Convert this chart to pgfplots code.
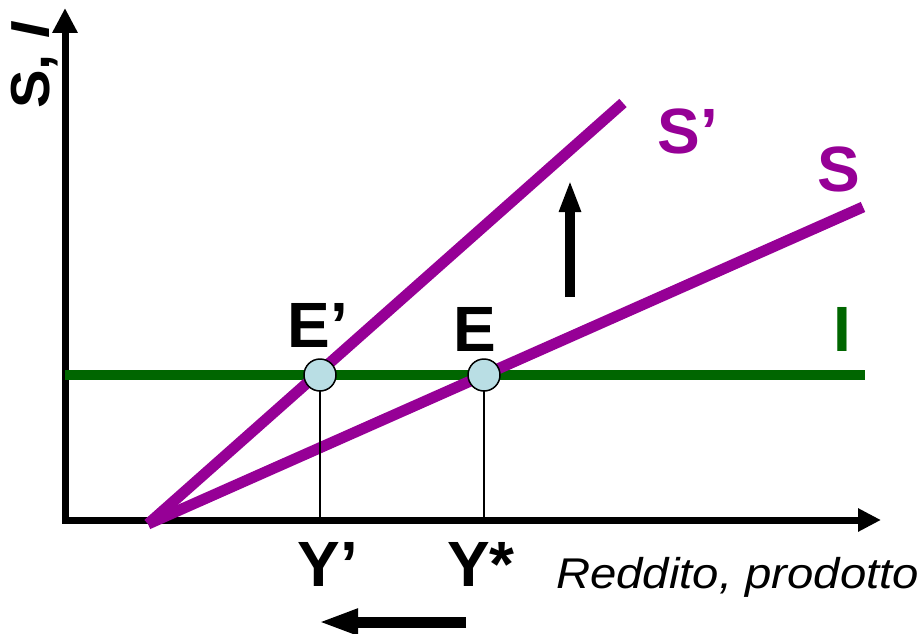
\documentclass[border=0pt]{standalone}
\usepackage{pgfplots}
\pgfplotsset{compat=1.18}
\usepackage{graphicx}
\usepackage{fontspec}
\setmainfont{Liberation Sans}
\usetikzlibrary{arrows.meta}
\definecolor{curvepurple}{RGB}{150,0,150}
\definecolor{igreen}{RGB}{0,102,0}
\definecolor{ptfill}{RGB}{185,222,228}
\begin{document}
\begin{tikzpicture}
\begin{axis}[
  scale only axis, width=923pt, height=632pt,
  xmin=0, xmax=923, ymin=0, ymax=632, y dir=reverse,
  hide axis, clip=false,
]
\path[draw=none] (axis cs:0,0) rectangle (axis cs:923,632);
% axes
\addplot[black, line width=7pt, -{Triangle[length=25pt,width=24pt]}] coordinates {(65,523) (65,8)};
\addplot[black, line width=7pt, -{Triangle[length=23pt,width=22pt]}] coordinates {(62,520) (881,520)};
% investment line
\addplot[igreen, line width=10pt] coordinates {(65,375) (865,375)};
% saving lines
\addplot[curvepurple, line width=11pt, line cap=butt] coordinates {(148,524) (863,207)};
\addplot[curvepurple, line width=11pt, line cap=butt] coordinates {(148,524) (623,103)};
% drop lines
\addplot[black, line width=1.8pt] coordinates {(320,375) (320,520)};
% equilibrium points
\addplot[only marks, mark=*, mark size=16pt, mark options={fill=ptfill, draw=black, line width=1.5pt}] coordinates {(320,375) (484,375)};
\addplot[black, line width=1.8pt] coordinates {(484,375) (484,520)};
% shift arrows
\addplot[black, line width=10pt, -{Triangle[length=32pt,width=20pt]}] coordinates {(570,297) (570,180)};
\addplot[black, line width=11pt, -{Triangle[length=40pt,width=24pt]}] coordinates {(466,622) (318,622)};
% labels
\node[anchor=base, font=\fontsize{55}{55}\selectfont\bfseries, rotate=90] at (axis cs:50,65) {\scalebox{1.05}[1]{S, \textit{I}}};
\node[anchor=base, font=\fontsize{64}{64}\selectfont\bfseries] at (axis cs:318,347) {E’};
\node[anchor=base, font=\fontsize{64}{64}\selectfont\bfseries] at (axis cs:475,351) {E};
\node[anchor=base, font=\fontsize{64}{64}\selectfont\bfseries, text=igreen] at (axis cs:842,351) {I};
\node[anchor=base, font=\fontsize{64}{64}\selectfont\bfseries, text=curvepurple] at (axis cs:688,153) {S’};
\node[anchor=base, font=\fontsize{64}{64}\selectfont\bfseries, text=curvepurple] at (axis cs:839,191) {S};
\node[anchor=base, font=\fontsize{64}{64}\selectfont\bfseries] at (axis cs:328,586) {Y’};
\node[anchor=base, font=\fontsize{64}{64}\selectfont\bfseries] at (axis cs:481,586) {Y*};
\node[anchor=base west, inner sep=0pt, font=\fontsize{43}{43}\selectfont\itshape] at (axis cs:556,588) {\scalebox{1.1}[1]{Reddito, prodotto}};
\end{axis}
\end{tikzpicture}
\end{document}
